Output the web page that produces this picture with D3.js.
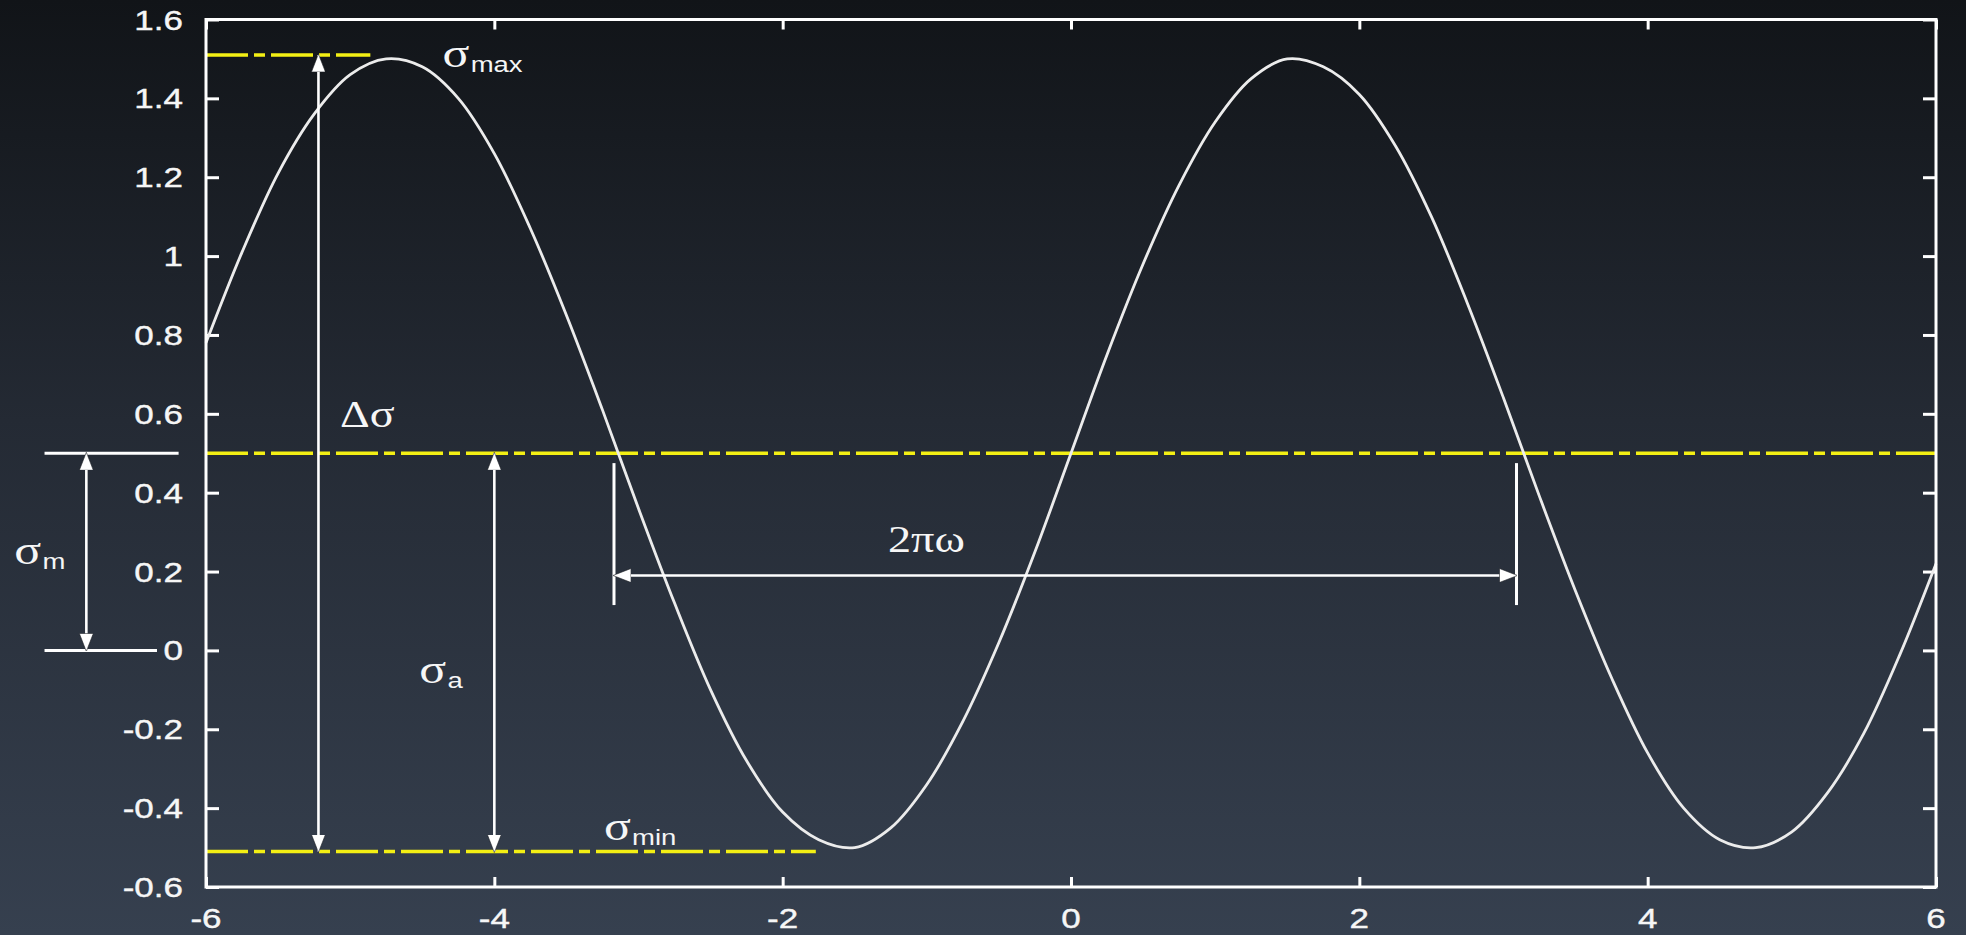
<!DOCTYPE html>
<html>
<head>
<meta charset="utf-8">
<script src="https://cdn.jsdelivr.net/npm/d3@7"></script>
<style>
html,body{margin:0;padding:0;background:#1e232c;}
svg{display:block;}
</style>
</head>
<body>
<svg id="chart" width="1966" height="935"></svg>
<script>
// ---- data ----
const xValues = [-6,-5.75,-5.5,-5.25,-5,-4.75,-4.5,-4.25,-4,-3.75,-3.5,-3.25,-3,-2.75,-2.5,-2.25,-2,-1.75,-1.5,-1.25,-1,-0.75,-0.5,-0.25,0,0.25,0.5,0.75,1,1.25,1.5,1.75,2,2.25,2.5,2.75,3,3.25,3.5,3.75,4,4.25,4.5,4.75,5,5.25,5.5,5.75,6];
const stressValues = [0.78,1.01,1.21,1.36,1.46,1.50,1.48,1.40,1.26,1.07,0.85,0.61,0.36,0.12,-0.10,-0.28,-0.41,-0.48,-0.50,-0.45,-0.34,-0.18,0.02,0.25,0.50,0.75,0.98,1.18,1.34,1.45,1.50,1.48,1.41,1.28,1.10,0.88,0.64,0.39,0.15,-0.07,-0.26,-0.40,-0.48,-0.50,-0.46,-0.36,-0.21,-0.01,0.22];
const xTicks = [-6,-4,-2,0,2,4,6];
const xTickLabels = ["-6","-4","-2","0","2","4","6"];
const yTicks = [-0.6,-0.4,-0.2,0,0.2,0.4,0.6,0.8,1,1.2,1.4,1.6];
const yTickLabels = ["-0.6","-0.4","-0.2","0","0.2","0.4","0.6","0.8","1","1.2","1.4","1.6"];

// reference levels
const sigmaMax = 1.51, sigmaMin = -0.51, sigmaMean = 0.5;
// yellow dash-dot lines: [y, xStart, xEnd]
const levelLines = [[sigmaMax,-6,-4.86],[sigmaMean,-6,6],[sigmaMin,-6,-1.77]];
// white helper lines outside the plot for sigma_m: [y, xStart, xEnd]
const meanGuides = [[0.5,-7.12,-6.19],[0,-7.12,-6.34]];
// double arrows: [x1,y1,x2,y2]
const arrows = [[-5.22,sigmaMax,-5.22,sigmaMin],[-4.0,sigmaMean,-4.0,sigmaMin],[-6.83,0.5,-6.83,0],[-3.17,0.19,3.09,0.19]];
// period markers: [x, yTop, yBottom]
const periodMarks = [[-3.17,0.475,0.115],[3.09,0.475,0.115]];
// labels: [symbol, subscript, x, y]
const labels = [["σ","max",-4.36,1.48],["Δσ","",-5.07,0.567],["σ","a",-4.52,-0.083],["σ","min",-3.24,-0.48],["2πω","",-1.27,0.25],["σ","m",-7.33,0.22]];

// ---- layout ----
const W = 1966, H = 935;
const plotLeft = 206, plotRight = 1936, plotTop = 19.5, plotBottom = 887;
const svg = d3.select("#chart");

const defs = svg.append("defs");
const grad = defs.append("linearGradient").attr("id","bg").attr("x1",0).attr("y1",0).attr("x2",0).attr("y2",1);
grad.append("stop").attr("offset","0%").attr("stop-color","#111418");
grad.append("stop").attr("offset","45%").attr("stop-color","#242a34");
grad.append("stop").attr("offset","100%").attr("stop-color","#36404f");
defs.append("marker").attr("id","head").attr("viewBox","0 0 18 14")
  .attr("markerWidth",18).attr("markerHeight",14).attr("refX",17).attr("refY",7)
  .attr("markerUnits","userSpaceOnUse").attr("orient","auto-start-reverse")
  .append("path").attr("d","M0,0 L18,7 L0,14 Z").attr("fill","#ffffff").attr("stroke","#1a1d22").attr("stroke-width",0.6);

svg.append("rect").attr("width",W).attr("height",H).attr("fill","url(#bg)");

const x = d3.scaleLinear().domain([-6,6]).range([plotLeft,plotRight]);
const y = d3.scaleLinear().domain([-0.6,1.6]).range([plotBottom,plotTop]);

const tickColor = "#ffffff";
const axB = d3.axisBottom(x).tickValues(xTicks).tickSize(-10).tickFormat(()=>"");
const axT = d3.axisTop(x).tickValues(xTicks).tickSize(-10).tickFormat(()=>"");
const axL = d3.axisLeft(y).tickValues(yTicks).tickSize(-13).tickFormat(()=>"");
const axR = d3.axisRight(y).tickValues(yTicks).tickSize(-13).tickFormat(()=>"");
function styleAxis(g){
  g.select(".domain").remove();
  g.selectAll(".tick line").attr("stroke",tickColor).attr("stroke-width",3);
}
svg.append("g").attr("transform",`translate(0,${plotBottom})`).call(axB).call(styleAxis);
svg.append("g").attr("transform",`translate(0,${plotTop})`).call(axT).call(styleAxis);
svg.append("g").attr("transform",`translate(${plotLeft},0)`).call(axL).call(styleAxis);
svg.append("g").attr("transform",`translate(${plotRight},0)`).call(axR).call(styleAxis);

const sx = 1.25;
const labelFont = "'Liberation Sans', Arial, sans-serif";
svg.append("g").selectAll("text").data(yTicks).join("text")
  .attr("transform",d=>`translate(183,${y(d)+10}) scale(${sx},1)`)
  .attr("text-anchor","end").attr("font-family",labelFont).attr("font-size",28)
  .attr("fill","#f6f6f6").attr("stroke","#f6f6f6").attr("stroke-width",0.4).text((d,i)=>yTickLabels[i]);
svg.append("g").selectAll("text").data(xTicks).join("text")
  .attr("transform",d=>`translate(${x(d)},928) scale(${sx},1)`)
  .attr("text-anchor","middle").attr("font-family",labelFont).attr("font-size",28)
  .attr("fill","#f6f6f6").attr("stroke","#f6f6f6").attr("stroke-width",0.4).text((d,i)=>xTickLabels[i]);

svg.append("g").selectAll("line").data(levelLines).join("line")
  .attr("x1",d=>x(d[1])).attr("x2",d=>x(d[2])).attr("y1",d=>y(d[0])).attr("y2",d=>y(d[0]))
  .attr("stroke","#f3ef14").attr("stroke-width",3.5).attr("stroke-dasharray","42,6,11,6");

const pts = xValues.map((v,i)=>[v,stressValues[i]]);
svg.append("path").datum(pts)
  .attr("d",d3.line().x(d=>x(d[0])).y(d=>y(d[1])).curve(d3.curveCatmullRom.alpha(0.5)))
  .attr("fill","none").attr("stroke","#ececec").attr("stroke-width",2.8).attr("stroke-linejoin","round");

svg.append("rect").attr("x",plotLeft).attr("y",plotTop).attr("width",plotRight-plotLeft).attr("height",plotBottom-plotTop)
  .attr("fill","none").attr("stroke","#ffffff").attr("stroke-width",3);

svg.append("g").selectAll("line").data(meanGuides).join("line")
  .attr("x1",d=>x(d[1])).attr("x2",d=>x(d[2])).attr("y1",d=>y(d[0])).attr("y2",d=>y(d[0]))
  .attr("stroke","#ffffff").attr("stroke-width",3);

svg.append("g").selectAll("line").data(periodMarks).join("line")
  .attr("x1",d=>x(d[0])).attr("x2",d=>x(d[0])).attr("y1",d=>y(d[1])).attr("y2",d=>y(d[2]))
  .attr("stroke","#ffffff").attr("stroke-width",3);

svg.append("g").selectAll("line").data(arrows).join("line")
  .attr("x1",d=>x(d[0])).attr("y1",d=>y(d[1])).attr("x2",d=>x(d[2])).attr("y2",d=>y(d[3]))
  .attr("stroke","#ffffff").attr("stroke-width",2.6)
  .attr("marker-start","url(#head)").attr("marker-end","url(#head)");

const lg = svg.append("g");
labels.forEach(([sym,sub,lx,ly])=>{
  const big = (sym==="Δσ"||sym==="2πω") ? 37 : 40;
  const t = lg.append("text")
    .attr("transform",`translate(${x(lx)},${y(ly)}) scale(1.25,1)`)
    .attr("fill","#f6f6f6");
  t.append("tspan").attr("font-family","'Liberation Serif','Times New Roman',serif").attr("font-size",big).text(sym);
  if(sub){
    t.append("tspan").attr("font-family",labelFont).attr("font-size",22).attr("dy",5).attr("dx",1).text(sub);
  }
});
</script>
</body>
</html>
